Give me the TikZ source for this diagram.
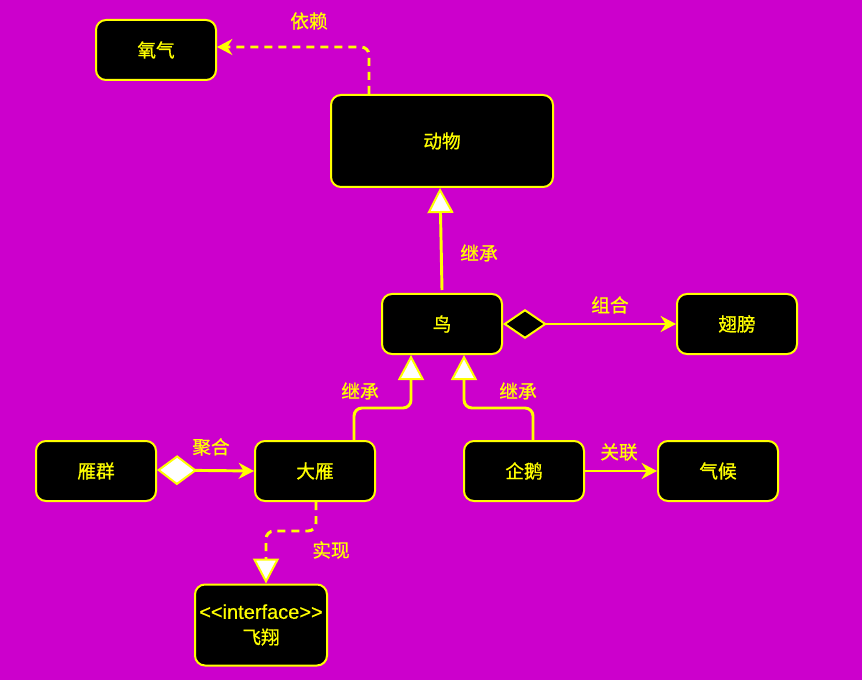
\documentclass[tikz,border=0pt]{standalone}
\usepackage{fontspec}
\setmainfont{Noto Sans CJK SC}[FakeBold=0.8]
\newfontfamily\latinfont{Liberation Sans}[FakeBold=0.5]
\usepackage{tikz}
\usetikzlibrary{arrows.meta, calc}

\definecolor{bgpurple}{HTML}{CC00CC}
\definecolor{umlyellow}{HTML}{FFFF00}

\begin{document}
\begin{tikzpicture}[
  x=0.75pt, y=-0.75pt,
  font=\fontsize{14pt}{16pt}\selectfont,
  classbox/.style={
    rectangle, draw=umlyellow, rounded corners=7.5pt,
    fill=black, text=umlyellow, align=center,
    minimum width=90pt, minimum height=45pt, line width=1.5pt
  },
  lbl/.style={text=umlyellow, inner sep=1pt},
  link/.style={draw=umlyellow, line width=2.2pt},
  inherit/.style={link, rounded corners=6pt,
    -{Triangle[width=19.5pt, length=18.75pt, fill=white, line width=1.5pt]}},
  depend/.style={link, dash pattern=on 6pt off 4.5pt, rounded corners=6pt,
    -{Stealth[width=12pt, length=11.5pt]}},
  assoc/.style={link, -{Stealth[width=12pt, length=11.5pt]}}
]
% background and bounding box
\fill[bgpurple] (0,0) rectangle (862,680);
\useasboundingbox (0,0) rectangle (862,680);

% classes
\node[classbox] (yangqi)   at (156,50)  {氧气};
\node[classbox, minimum width=166.5pt, minimum height=69pt] (dongwu) at (442,141) {动物};
\node[classbox] (niao)     at (442,324) {鸟};
\node[classbox] (chibang)  at (737,324) {翅膀};
\node[classbox] (yanqun)   at (96,471)  {雁群};
\node[classbox] (dayan)    at (315,471) {大雁};
\node[classbox] (qie)      at (524,471) {企鹅};
\node[classbox] (qihou)    at (718,471) {气候};
\node[classbox, minimum width=99pt, minimum height=60.75pt, inner sep=1pt] (feixiang) at (261,625)
  {{\latinfont\fontsize{15pt}{16pt}\selectfont <{}<interface>{}>}\\[3pt]飞翔};

% relations
\draw[depend] ($(dongwu.north)+(-73,0)$) |- ($(yangqi.east)+(0,-3)$);
\draw[inherit] ($(niao.north)+(0,-3)$) -- ($(dongwu.south)+(-2,0)$);
\draw[link, {Diamond[width=22.5pt, length=33pt, fill=black, line width=1.5pt]}-{Stealth[width=12pt, length=11.5pt]}]
  (niao.east) -- (chibang.west);
\draw[inherit] ($(dayan.north)+(39,0)$) -- ++(0,-32) -| ($(niao.south)+(-31,0)$);
\draw[inherit] ($(qie.north)+(9,0)$) -- ++(0,-32) -| ($(niao.south)+(22,0)$);
\draw[link, {Diamond[width=22.5pt, length=30pt, fill=white, line width=1.5pt]}-{Stealth[width=12pt, length=11.5pt]}]
  ($(yanqun.east)+(0,-1)$) -- (dayan.west);
\draw[assoc] (qie.east) -- (qihou.west);
\draw[link, dash pattern=on 6pt off 4.5pt, rounded corners=6pt,
  -{Triangle[width=19.5pt, length=18.75pt, fill=white, line width=1.5pt]}]
  ($(dayan.south)+(1,0)$) -- ++(0,29) -| ($(feixiang.north)+(5,0)$);

% labels
\node[lbl] (lyilai)  at (309,21)  {依赖};
\node[lbl] (ljc1)    at (479,253) {继承};
\node[lbl] (lzuhe)   at (610,305) {组合};
\node[lbl] (ljc2)    at (360,391) {继承};
\node[lbl] (ljc3)    at (518,391) {继承};
\node[lbl] (ljuhe)   at (211,447) {聚合};
\node[lbl] (lguanlian) at (619,452) {关联};
\node[lbl] (lshixian)  at (331,550) {实现};
\end{tikzpicture}
\end{document}
